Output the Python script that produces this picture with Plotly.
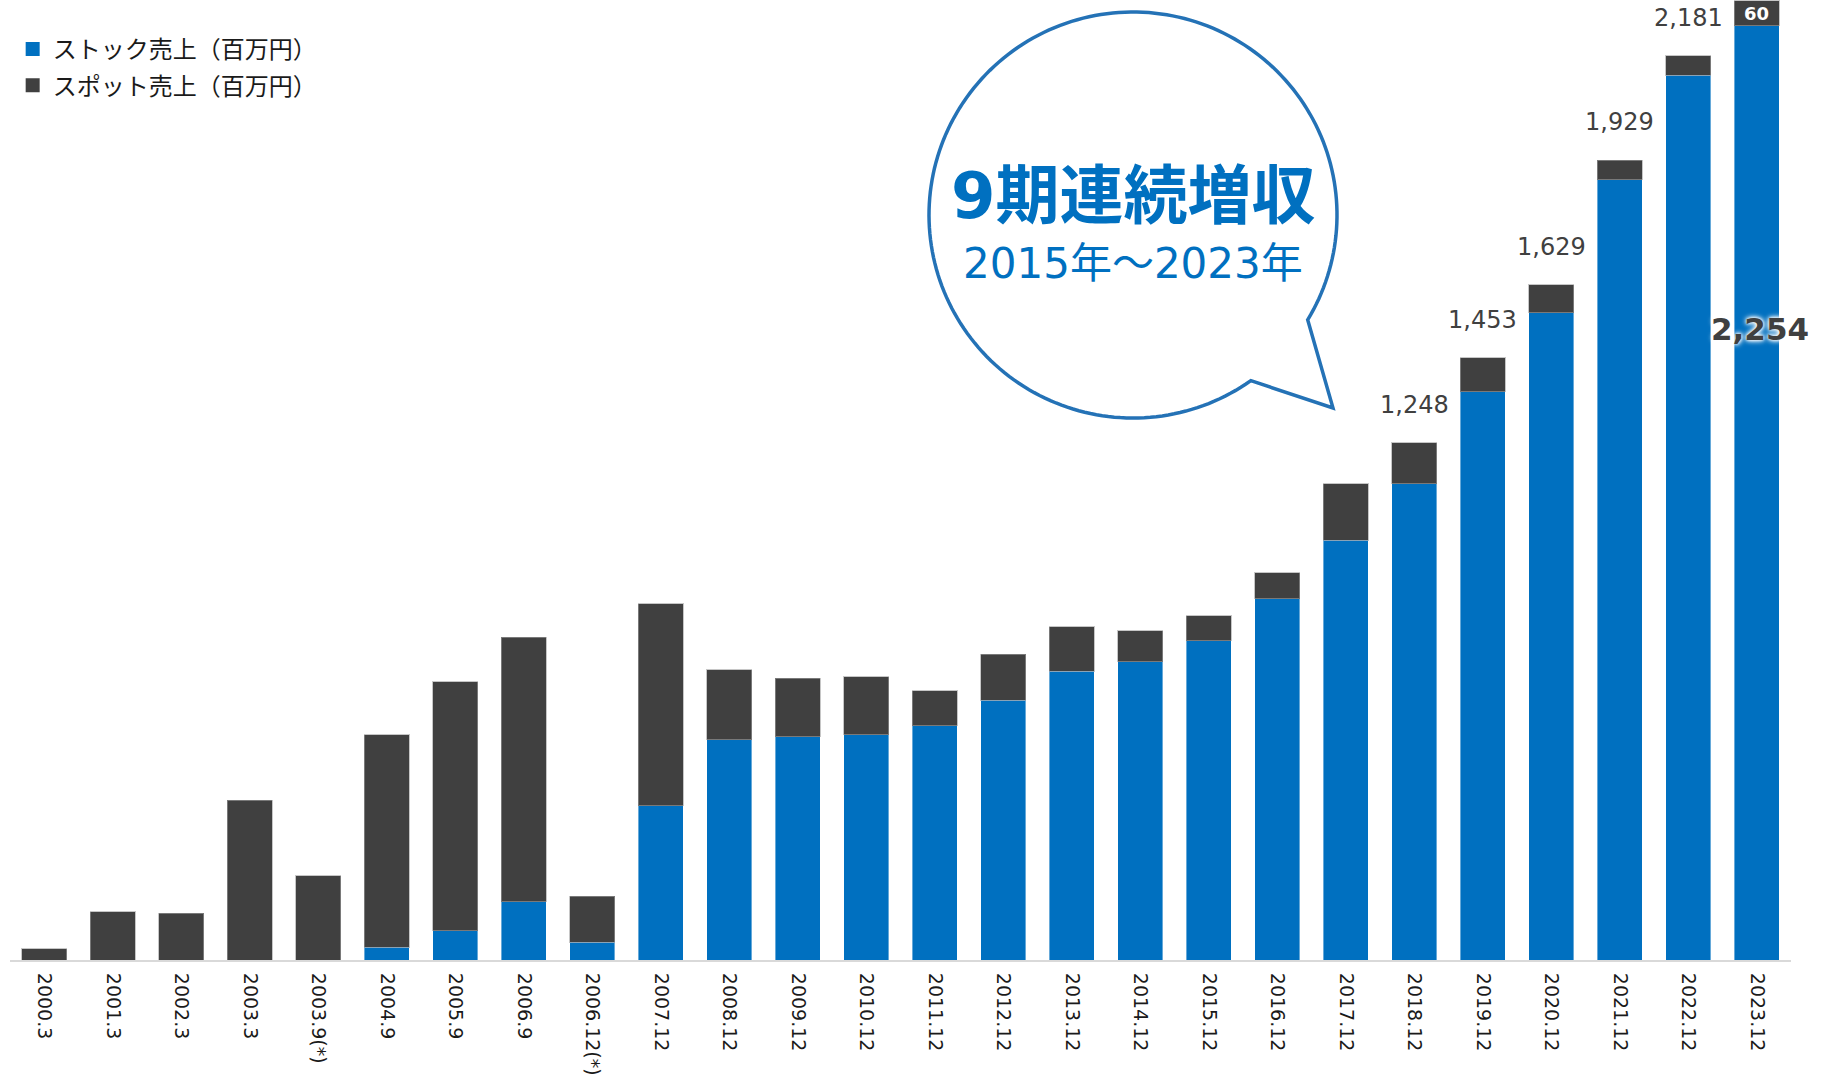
import numpy as np
import plotly.graph_objects as go

# Fiscal periods (million yen)
periods = ["2000.3", "2001.3", "2002.3", "2003.3", "2003.9(*)", "2004.9", "2005.9",
           "2006.9", "2006.12(*)", "2007.12", "2008.12", "2009.12", "2010.12",
           "2011.12", "2012.12", "2013.12", "2014.12", "2015.12", "2016.12",
           "2017.12", "2018.12", "2019.12", "2020.12", "2021.12", "2022.12", "2023.12"]
stock_sales = [0, 0, 0, 0, 0, 31, 70, 140, 43, 372, 531, 538, 543, 565, 627, 697,
               719, 770, 871, 1013, 1149, 1371, 1562, 1882, 2134, 2254]
spot_sales = [27, 116, 113, 386, 203, 512, 601, 639, 111, 487, 169, 142, 140, 84, 111,
              107, 75, 60, 63, 136, 99, 82, 67, 47, 47, 60]
total_label_periods = ["2018.12", "2019.12", "2020.12", "2021.12", "2022.12"]
series_names = ["ストック売上（百万円）", "スポット売上（百万円）"]

BLUE = "#0070c0"
DARK = "#404040"
BASE_FONT = "DejaVu Sans, Noto Sans CJK JP, sans-serif"

W, H = 1822, 1076
ML, MR, MT, MB = 10, 31, 0, 116
PW, PH = W - ML - MR, H - MT - MB


def px(x):
    return (x - ML) / PW


def py(y):
    return (H - MB - y) / PH


fig = go.Figure()
fig.add_trace(go.Bar(x=periods, y=stock_sales, name=series_names[0], showlegend=False,
                     marker=dict(color=BLUE, line=dict(color="rgba(255,255,255,0.4)", width=1))))
fig.add_trace(go.Bar(x=periods, y=spot_sales, name=series_names[1], showlegend=False,
                     marker=dict(color=DARK, line=dict(color="rgba(160,160,160,0.6)", width=1))))

# legend entries with larger square swatches
for name, color, grp in zip(series_names, [BLUE, DARK], ["a", "b"]):
    fig.add_trace(go.Scatter(x=[None], y=[None], mode="markers", name=name, legendgroup=grp,
                             marker=dict(symbol="square", size=14, color=color)))

# totals above the recent bars (x given as category index)
for p in total_label_periods:
    i = periods.index(p)
    total = stock_sales[i] + spot_sales[i]
    fig.add_annotation(x=i, y=total, text=f"{total:,}", showarrow=False,
                       yanchor="bottom", yshift=22,
                       font=dict(family=BASE_FONT, size=24, color=DARK))

# latest period: segment values
last = len(periods) - 1
fig.add_annotation(x=last, y=stock_sales[-1] + spot_sales[-1] / 2, text=f"<b>{spot_sales[-1]}</b>",
                   showarrow=False, yanchor="middle",
                   font=dict(family=BASE_FONT, size=18, color="white"))
fig.add_annotation(x=last, y=1523, text=f"<b>{stock_sales[-1]:,}</b>", showarrow=False,
                   yanchor="middle", xshift=3,
                   font=dict(family=BASE_FONT, size=31, color=DARK,
                             shadow="0px 0px 3px white, 0px 0px 5px white, 0px 0px 6px white"))

# speech bubble
cx, cy, rx, ry = 1133, 215, 204, 203
tip = (1333, 408)
a_start = np.deg2rad(31.1)
a_end = np.deg2rad(54.7 - 360)
angles = np.linspace(a_start, a_end, 200)
pts = [(cx + rx * np.cos(a), cy + ry * np.sin(a)) for a in angles]
pts.append(tip)
path = "M " + " L ".join(f"{px(x):.5f},{py(y):.5f}" for x, y in pts) + " Z"
fig.add_shape(type="path", path=path, xref="paper", yref="paper",
              line=dict(color="#2472b6", width=3.5), fillcolor="white", layer="above")

fig.add_annotation(x=px(1133), y=py(196), xref="paper", yref="paper",
                   text="<b>9期連続増収</b>", showarrow=False, xanchor="center", yanchor="middle",
                   font=dict(family=BASE_FONT, size=64, color=BLUE))
fig.add_annotation(x=px(1133), y=py(263), xref="paper", yref="paper",
                   text="2015年～2023年", showarrow=False, xanchor="center", yanchor="middle",
                   font=dict(family=BASE_FONT, size=42, color=BLUE))

fig.update_layout(
    width=W, height=H,
    margin=dict(l=ML, r=MR, t=MT, b=MB, autoexpand=False),
    barmode="stack",
    bargap=0.34,
    plot_bgcolor="white",
    paper_bgcolor="white",
    hovermode=False,
    font=dict(family=BASE_FONT, color="#1a1a1a"),
    legend=dict(x=0.0015, y=0.972, xanchor="left", yanchor="top",
                traceorder="grouped", tracegroupgap=2, itemsizing="trace",
                font=dict(family="Noto Sans CJK JP, sans-serif", size=24, color="#1a1a1a"),
                bgcolor="rgba(0,0,0,0)"),
    xaxis=dict(type="category", tickangle=90, showgrid=False, ticks="",
               range=[-0.5, len(periods) - 0.5], autorange=False, automargin=False,
               showline=True, linecolor="#d9d9d9", linewidth=2, ticklabelstandoff=7,
               tickfont=dict(family=BASE_FONT, size=19, color="#1a1a1a")),
    yaxis=dict(visible=False, range=[0, 2316], automargin=False),
)

fig.write_html("out.html")
